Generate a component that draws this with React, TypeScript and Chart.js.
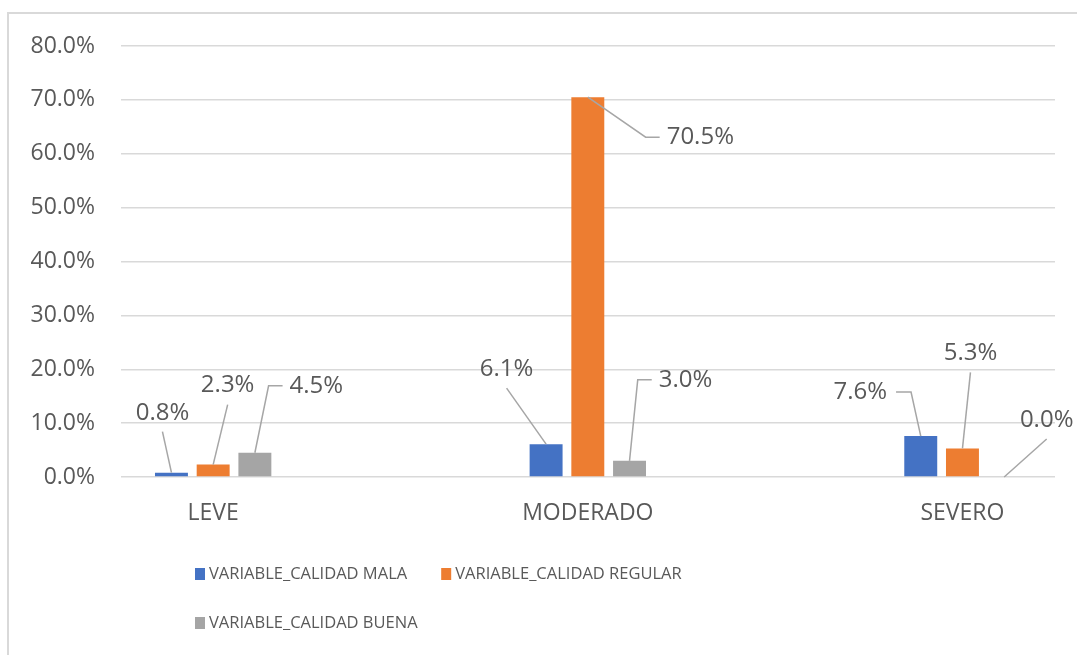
import React, { useEffect, useRef } from 'react';
import { Chart, registerables } from 'chart.js';

Chart.register(...registerables);

// ---------- data ----------
const CATEGORIES = ['LEVE', 'MODERADO', 'SEVERO'];
const SERIES_NAMES = ['VARIABLE_CALIDAD MALA', 'VARIABLE_CALIDAD REGULAR', 'VARIABLE_CALIDAD BUENA'];
const CALIDAD_MALA = [0.8, 6.1, 7.6];
const CALIDAD_REGULAR = [2.3, 70.5, 5.3];
const CALIDAD_BUENA = [4.5, 3.0, 0.0];
const Y_TICKS = [0, 10, 20, 30, 40, 50, 60, 70, 80];

// ---------- styles ----------
const COLORS = ['#4472C4', '#ED7D31', '#A5A5A5'];
const TEXT_COLOR = '#595959';
const GRID_COLOR = '#D9D9D9';
const LEADER_COLOR = '#A6A6A6';
const FONT_FAMILY = "'Open Sans', 'Noto Sans', sans-serif";

// data-label placement: offset of label centre from the bar top (px) and leader style
type Placement = { dx: number; dy: number; leader: 'below' | 'left' | 'right' };
const LABEL_PLACEMENT: Placement[][] = [
  [
    { dx: -9, dy: -60, leader: 'below' },
    { dx: -39.5, dy: -75, leader: 'below' },
    { dx: -60.5, dy: -44, leader: 'right' },
  ],
  [
    { dx: 14.5, dy: -79, leader: 'below' },
    { dx: 112.5, dy: 40, leader: 'left' },
    { dx: 8, dy: -95, leader: 'below' },
  ],
  [
    { dx: 61.5, dy: -67, leader: 'left' },
    { dx: 56, dy: -81, leader: 'left' },
    { dx: 42.5, dy: -57, leader: 'below' },
  ],
];

const LEGEND_STYLE = { x: 195, firstRowY: 574, rowGap: 49, boxW: 10, boxH: 12, textGap: 4, itemGap: 34, maxWidth: 520, fontSize: 16.5 };

const dataLabelPlugin = {
  id: 'excelDataLabels',
  afterDatasetsDraw(chart: any) {
    const ctx = chart.ctx;
    ctx.save();
    ctx.font = `24px ${FONT_FAMILY}`;
    ctx.textAlign = 'center';
    ctx.textBaseline = 'middle';
    chart.data.datasets.forEach((ds: any, si: number) => {
      const meta = chart.getDatasetMeta(si);
      meta.data.forEach((bar: any, ci: number) => {
        const raw = ds.data[ci];
        const v = typeof raw === 'object' ? raw.y : raw;
        const text = v.toFixed(1) + '%';
        const p = LABEL_PLACEMENT[si][ci];
        const bx = bar.x;
        const by = bar.y;
        const cx = bx + p.dx;
        const cy = by + p.dy;
        const w = ctx.measureText(text).width;
        ctx.strokeStyle = LEADER_COLOR;
        ctx.lineWidth = 1.5;
        ctx.beginPath();
        if (p.leader === 'below') {
          ctx.moveTo(cx, cy + 19);
          ctx.lineTo(bx, by);
        } else if (p.leader === 'left') {
          const x1 = cx - w / 2 - 7;
          ctx.moveTo(x1, cy);
          ctx.lineTo(x1 - 14, cy);
          ctx.lineTo(bx, by);
        } else {
          const x1 = cx + w / 2 + 9;
          ctx.moveTo(x1, cy);
          ctx.lineTo(x1 + 15, cy);
          ctx.lineTo(bx, by);
        }
        ctx.stroke();
        ctx.fillStyle = TEXT_COLOR;
        ctx.fillText(text, cx, cy);
      });
    });
    ctx.restore();
  },
};

const legendPlugin = {
  id: 'excelLegend',
  afterDraw(chart: any) {
    const ctx = chart.ctx;
    const L = LEGEND_STYLE;
    ctx.save();
    ctx.font = `${L.fontSize}px ${FONT_FAMILY}`;
    ctx.textAlign = 'left';
    ctx.textBaseline = 'middle';
    let x = L.x;
    let y = L.firstRowY;
    let first = true;
    chart.data.datasets.forEach((ds: any) => {
      const tw = ctx.measureText(ds.label).width;
      const itemW = L.boxW + L.textGap + tw;
      if (!first && x + itemW > L.x + L.maxWidth) {
        x = L.x;
        y += L.rowGap;
      }
      ctx.fillStyle = ds.backgroundColor;
      ctx.fillRect(x, y - L.boxH / 2, L.boxW, L.boxH);
      ctx.fillStyle = TEXT_COLOR;
      ctx.fillText(ds.label, x + L.boxW + L.textGap, y);
      x += itemW + L.itemGap;
      first = false;
    });
    ctx.restore();
  },
};

export default function App() {
  const canvasRef = useRef<HTMLCanvasElement | null>(null);

  useEffect(() => {
    if (!canvasRef.current) return;
    const series = [CALIDAD_MALA, CALIDAD_REGULAR, CALIDAD_BUENA];
    const chart = new Chart(canvasRef.current, {
      type: 'bar',
      data: {
        datasets: series.map((vals, si) => ({
          label: SERIES_NAMES[si],
          data: vals.map((v, i) => ({ x: i, y: v })),
          backgroundColor: COLORS[si],
          borderWidth: 0,
          categoryPercentage: 0.334,
          barPercentage: 0.79,
        })),
      },
      options: {
        responsive: false,
        animation: false,
        events: [],
        layout: { padding: { top: 46, right: 22, bottom: 0, left: 0 } },
        plugins: {
          legend: { display: false },
          tooltip: { enabled: false },
          title: { display: false },
        },
        scales: {
          x: {
            type: 'linear',
            offset: false,
            min: -0.246,
            max: 2.247,
            afterBuildTicks: (s: any) => {
              s.ticks = CATEGORIES.map((_, i) => ({ value: i }));
            },
            afterFit: (s: any) => {
              s.height = 178;
            },
            ticks: {
              callback: (v: any) => CATEGORIES[v] ?? '',
              padding: 15,
              color: TEXT_COLOR,
              font: { family: FONT_FAMILY, size: 23 },
              maxRotation: 0,
              autoSkip: false,
            },
            grid: { display: false, offset: false },
            border: { display: false },
          },
          y: {
            min: 0,
            max: 80,
            afterBuildTicks: (s: any) => {
              s.ticks = Y_TICKS.map((v) => ({ value: v }));
            },
            afterFit: (s: any) => {
              s.width = 121;
            },
            ticks: {
              callback: (v: any) => Number(v).toFixed(1) + '%',
              padding: 26,
              color: TEXT_COLOR,
              font: { family: FONT_FAMILY, size: 23 },
            },
            grid: { color: GRID_COLOR, lineWidth: 1.5, drawTicks: false },
            border: { display: false },
          },
        },
      } as any,
      plugins: [dataLabelPlugin, legendPlugin],
    });
    return () => chart.destroy();
  }, []);

  return (
    <div style={{ position: 'fixed', left: 0, top: 0, width: 1077, height: 655, overflow: 'hidden', background: '#fff' }}>
      <div style={{ position: 'absolute', left: 7, top: 12, width: 1200, height: 800, border: '2px solid #D9D9D9' }} />
      <canvas ref={canvasRef} width={1077} height={655} style={{ position: 'absolute', left: 0, top: 0 }} />
    </div>
  );
}
